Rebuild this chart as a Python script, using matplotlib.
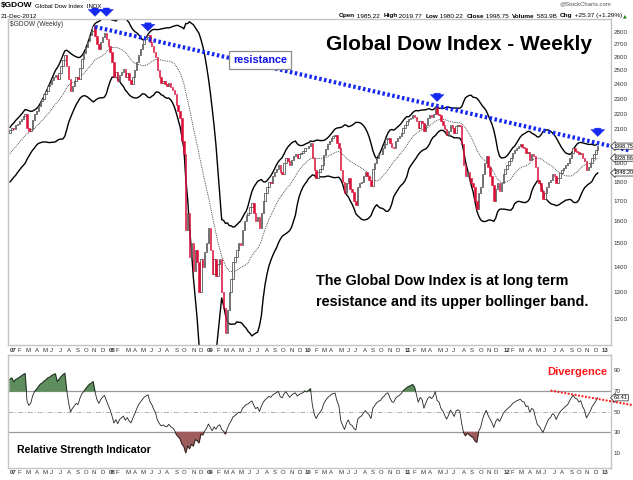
import matplotlib
matplotlib.use("Agg")
import matplotlib.pyplot as plt
import matplotlib.transforms as mtransforms
from matplotlib.ticker import FixedLocator, NullLocator
import numpy as np
import pandas as pd

W, H = 633, 480

# weekly closes (Jul 2006 - Dec 2006 only used to warm up the indicators)
warmup_2006 = [1760, 1745, 1775, 1790, 1800, 1815, 1830, 1825, 1850, 1865, 1860, 1880, 1895,
               1910, 1925, 1920, 1945, 1960, 1975, 1990, 1985, 2010, 2030, 2045, 2060, 2080]
closes_2007 = [2095, 2110, 2100, 2125, 2135, 2150, 2165, 2185, 2200, 2110,
               2090, 2105, 2160, 2200, 2220, 2250, 2285, 2300, 2330, 2350,
               2385, 2400, 2430, 2455, 2470, 2440, 2480, 2530, 2575, 2620,
               2530, 2440, 2350, 2390, 2420, 2450, 2440, 2520, 2590, 2630,
               2680, 2730, 2780, 2810, 2850, 2770, 2700, 2660, 2720, 2760,
               2790, 2740]
closes_2008 = [2690, 2640, 2560, 2450, 2490, 2420, 2470, 2490, 2510, 2450,
               2480, 2430, 2400, 2450, 2500, 2560, 2620, 2660, 2700, 2740,
               2760, 2780, 2720, 2690, 2640, 2600, 2500, 2450, 2410, 2420,
               2400, 2390, 2410, 2380, 2360, 2330, 2260, 2215, 2175, 2030,
               1950, 1560, 1640, 1440, 1500, 1380, 1470, 1420, 1300, 1430,
               1400, 1460]
closes_2009 = [1500, 1570, 1470, 1370, 1430, 1360, 1410, 1430, 1300, 1240,
               1150, 1230, 1300, 1350, 1420, 1440, 1470, 1500, 1490, 1560,
               1600, 1630, 1640, 1670, 1690, 1640, 1600, 1620, 1570, 1640,
               1700, 1740, 1770, 1800, 1790, 1830, 1850, 1870, 1890, 1850,
               1840, 1900, 1930, 1910, 1890, 1920, 1940, 1950, 1930, 1950,
               1960, 1970]
closes_2010 = [1990, 1985, 2000, 2020, 1930, 1860, 1820, 1850, 1870, 1890,
               1945, 1980, 2010, 2030, 2050, 2060, 2065, 2020, 1990, 1860,
               1800, 1740, 1790, 1820, 1760, 1745, 1700, 1680, 1770, 1790,
               1800, 1830, 1850, 1830, 1810, 1775, 1870, 1900, 1930, 1950,
               1955, 1990, 2010, 2040, 2050, 2020, 1995, 1990, 2030, 2050,
               2060, 2080]
closes_2011 = [2110, 2130, 2150, 2165, 2175, 2190, 2180, 2150, 2110, 2150,
               2140, 2090, 2130, 2170, 2190, 2180, 2200, 2250, 2200, 2190,
               2150, 2130, 2100, 2065, 2090, 2130, 2110, 2080, 2120, 2130,
               2120, 2010, 1890, 1830, 1850, 1820, 1790, 1770, 1700, 1660,
               1740, 1770, 1840, 1900, 1940, 1880, 1830, 1780, 1700, 1760,
               1790, 1750]
closes_2012 = [1790, 1840, 1870, 1890, 1910, 1930, 1960, 1975, 1990, 2000,
               2010, 1995, 1990, 1960, 1965, 1920, 1950, 1940, 1880, 1810,
               1790, 1750, 1710, 1740, 1770, 1800, 1810, 1840, 1830, 1790,
               1820, 1845, 1860, 1875, 1890, 1900, 1930, 1960, 1985, 1970,
               1965, 1950, 1960, 1930, 1910, 1860, 1880, 1900, 1930, 1950,
               1973.38, 1998.75]

first_week = "2007-01-05"
# 2000 sits under the price tag, so it gets no label
price_ticks = [1200, 1300, 1400, 1500, 1600, 1700, 1800, 1900, 2100,
               2200, 2300, 2400, 2500, 2600, 2700, 2800]
rsi_ticks = [10, 30, 50, 70, 90]

# resistance line (week, price) and arrow tips (week, price)
resistance_pts = [(45, 2844), (328, 1973)]
arrow_weeks = [45, 51, 73, 226, 311]
arrow_tips = [2910, 2910, 2785, 2262, 2040]
divergence_pts = [(286, 70.5), (329, 56.5)]

header_right = [("Open", "bold"), (" 1985.22  ", "normal"), ("High", "bold"),
                (" 2019.77  ", "normal"), ("Low", "bold"), (" 1980.22  ", "normal"),
                ("Close", "bold"), (" 1998.75  ", "normal"), ("Volume", "bold"),
                (" 583.9B  ", "normal"), ("Chg", "bold"), (" +25.37 (+1.29%)", "normal")]

# ---------------------------------------------------------------- data prep
n_warm = len(warmup_2006)
all_close = pd.Series(warmup_2006 + closes_2007 + closes_2008 + closes_2009
                      + closes_2010 + closes_2011 + closes_2012, dtype=float)
sma = all_close.rolling(20).mean()
sd = all_close.rolling(20).std(ddof=0)
upper = sma + 2 * sd
lower = sma - 2 * sd
delta = all_close.diff()
gain = delta.clip(lower=0).ewm(alpha=1 / 14, adjust=False).mean()
loss = (-delta.clip(upper=0)).ewm(alpha=1 / 14, adjust=False).mean()
rsi = 100 - 100 / (1 + gain / loss)

close = all_close.values[n_warm:]
opens = all_close.values[n_warm - 1:-1]
sma = sma.values[n_warm:]
upper = upper.values[n_warm:]
lower = lower.values[n_warm:]
rsi = rsi.values[n_warm:]
wk = np.arange(len(close))
dates = pd.date_range(first_week, periods=len(close), freq="W-FRI")

SANS = "Liberation Sans"
plt.rcParams["font.family"] = [SANS, "DejaVu Sans"]

# ---------------------------------------------------------------- figure
fig = plt.figure(figsize=(W / 100, H / 100), dpi=100)


def box(l, t, r, b):
    return [l / W, 1 - b / H, (r - l) / W, (b - t) / H]


def px(x, y):
    return x / W, 1 - y / H


ax = fig.add_axes(box(8, 19, 611, 345))
axr = fig.add_axes(box(8, 355, 611, 468), sharex=ax)

for a in (ax, axr):
    for s in a.spines.values():
        s.set_color("#c4c4c4")
        s.set_linewidth(1.0)
    a.yaxis.tick_right()
    a.tick_params(axis="y", length=0, pad=2, labelsize=4.5, labelcolor="#333333")
    a.tick_params(axis="x", length=0, labelbottom=False)

# candles
up = close >= opens
body_lo = np.minimum(opens, close)
body_h = np.maximum(np.abs(close - opens), close * 0.0025)
ax.bar(wk[up], body_h[up], bottom=body_lo[up], width=0.75, facecolor="white",
       edgecolor="#4a4a4a", linewidth=0.55, zorder=3)
ax.bar(wk[~up], body_h[~up], bottom=body_lo[~up], width=0.75, facecolor="#dc1038",
       edgecolor="#dc1038", linewidth=0.4, zorder=3)

ax.plot(wk, upper, color="black", lw=1.0, zorder=2)
ax.plot(wk, lower, color="black", lw=1.0, zorder=2)
ax.plot(wk, sma, color="#222222", lw=0.6, ls=(0, (1, 1.2)), zorder=2)

ax.set_yscale("log")
ax.set_ylim(1110, 2911)
ax.set_xlim(-1.06, 318.0)
ax.yaxis.set_major_locator(FixedLocator(price_ticks))
ax.yaxis.set_minor_locator(NullLocator())
ax.set_yticklabels([str(v) for v in price_ticks])

# resistance line + arrows
(rx0, ry0), (rx1, ry1) = resistance_pts
ax.plot([rx0, rx1], [ry0, ry1], color="#1428f0", lw=3.0, ls=(0, (0.6, 0.6)),
        solid_capstyle="butt", clip_on=False, zorder=6)
for w_, p_ in zip(arrow_weeks, arrow_tips):
    ax.annotate("", xy=(w_, p_), xytext=(0, 10), textcoords="offset points",
                arrowprops=dict(arrowstyle="simple,head_width=1.0,head_length=0.5,tail_width=0.45",
                                fc="#1428f0", ec="#1428f0", lw=0.3),
                annotation_clip=False, zorder=7)

fig.text(*px(260, 60), "resistance", ha="center", va="center", fontsize=7.8,
         fontweight="bold", color="#1010e8", zorder=8,
         bbox=dict(boxstyle="square,pad=0.35", fc="white", ec="#8c8c8c", lw=0.9))

# value tags on the right axis
tag_vals = [close[-1], sma[-1], lower[-1]]
for v in tag_vals:
    ax.annotate(f"{v:.2f}", xy=(1.0, v), xycoords=("axes fraction", "data"),
                xytext=(2, 0), textcoords="offset points", ha="left", va="center",
                fontsize=4.0, color="black", annotation_clip=False, zorder=9,
                bbox=dict(boxstyle="larrow,pad=0.1", fc="white", ec="#222222", lw=0.5))

# RSI panel
axr.plot(wk, rsi, color="#222222", lw=0.6, zorder=3)
axr.fill_between(wk, rsi, 70, where=rsi > 70, interpolate=True, color="#5e8e5e", zorder=2)
axr.fill_between(wk, rsi, 30, where=rsi < 30, interpolate=True, color="#9e5c5c", zorder=2)
axr.axhline(70, color="#9a9a9a", lw=0.9, zorder=1)
axr.axhline(30, color="#9a9a9a", lw=0.9, zorder=1)
axr.axhline(50, color="#b0b0b0", lw=0.7, ls=(0, (5, 2, 1, 2)), zorder=1)
axr.set_ylim(-4.4, 104.8)
axr.yaxis.set_major_locator(FixedLocator(rsi_ticks))
axr.set_yticklabels([str(v) for v in rsi_ticks])
(dx0, dy0), (dx1, dy1) = divergence_pts
axr.plot([dx0, dx1], [dy0, dy1], color="#ff1a1a", lw=1.4, ls=(0, (1, 0.8)),
         clip_on=False, zorder=5)
axr.annotate(f"{rsi[-1]:.2f}", xy=(1.0, rsi[-1]), xycoords=("axes fraction", "data"),
             xytext=(2, 0), textcoords="offset points", ha="left", va="center",
             fontsize=4.0, annotation_clip=False, zorder=9,
             bbox=dict(boxstyle="larrow,pad=0.1", fc="white", ec="#222222", lw=0.5))

# month labels under both panels
months = pd.date_range("2007-01-01", "2013-01-01", freq="MS")
for a, ypix in ((ax, 350), (axr, 473)):
    tr = mtransforms.blended_transform_factory(a.transData, fig.transFigure)
    for m in months:
        pos = np.ceil((m - dates[0]).days / 7)
        if m.month == 1:
            lab, fw = m.strftime("%y"), "bold"
        else:
            lab, fw = m.strftime("%b")[0], "normal"
        fig.text(pos, 1 - ypix / H, lab, transform=tr, ha="left", va="center",
                 fontsize=4.3, fontweight=fw, color="#333333")

# big annotations
fig.text(*px(459, 44), "Global Dow Index - Weekly", ha="center", va="center",
         fontsize=15, fontweight="bold", color="black")
fig.text(*px(316, 281), "The Global Dow Index is at long term", ha="left",
         va="center", fontsize=10.4, fontweight="bold")
fig.text(*px(316, 302), "resistance and its upper bollinger band.", ha="left",
         va="center", fontsize=10.4, fontweight="bold")
fig.text(*px(577, 372), "Divergence", ha="center", va="center", fontsize=8.0,
         fontweight="bold", color="#ff1a1a")
fig.text(*px(17, 450), "Relative Strength Indicator", ha="left", va="center",
         fontsize=7.6, fontweight="bold")

# header
fig.text(*px(1, 6), "$GDOW", ha="left", va="center", fontsize=6.0, fontweight="bold")
fig.text(*px(35, 6), "Global Dow Index  INDX", ha="left", va="center", fontsize=4.4)
fig.text(*px(1, 16), "21-Dec-2012", ha="left", va="center", fontsize=4.5)
fig.text(*px(10, 25), "$GDOW (Weekly)", ha="left", va="center", fontsize=4.8,
         color="#333333")
fig.text(*px(611, 4), "@StockCharts.com", ha="right", va="center", fontsize=4.3,
         color="#555555")

renderer = fig.canvas.get_renderer()
pieces = [fig.text(0, 0, s, fontsize=4.6, fontweight=fw) for s, fw in header_right]
widths = [p.get_window_extent(renderer).width for p in pieces]
xcur = 622 - sum(widths)
for p, wdt in zip(pieces, widths):
    p.set_position(px(xcur, 16))
    p.set_va("center")
    xcur += wdt
fig.text(*px(623, 16), "\u25b2", ha="left", va="center", fontsize=3.5,
         color="#1a8a1a", family="DejaVu Sans")

fig.savefig("out.png", dpi=100, facecolor="white")
